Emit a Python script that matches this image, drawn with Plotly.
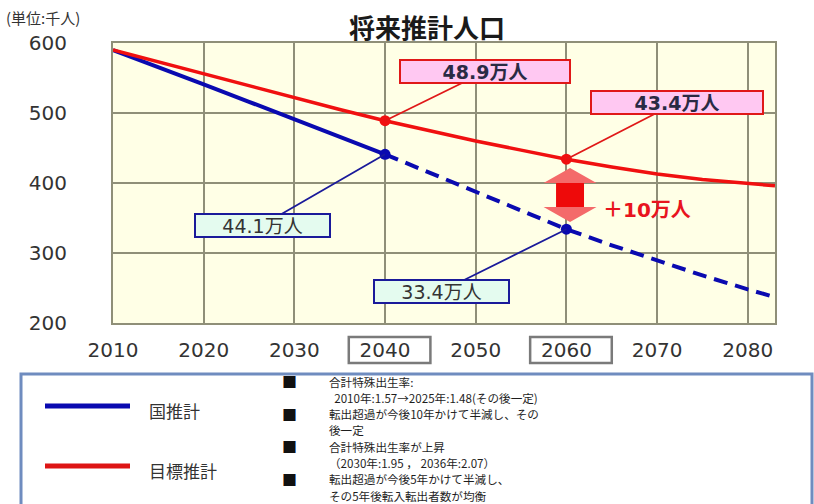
import plotly.graph_objects as go

# ---------------- data ----------------
years = [2010, 2015, 2020, 2025, 2030, 2035, 2040, 2045, 2050, 2055, 2060, 2065, 2070, 2075, 2080, 2083]
national = [590, 566, 541, 516, 491, 466, 441, 414, 388, 361, 334, 311, 289, 268, 248, 237]   # 国推計 (千人)
target = [590, 573, 556, 538, 521, 505, 489, 474, 460, 447, 434, 423, 413, 405, 399, 396]     # 目標推計 (千人)
x_ticks = [2010, 2020, 2030, 2040, 2050, 2060, 2070, 2080]
y_ticks = [200, 300, 400, 500, 600]
highlight_years = [2040, 2060]
nat_labels = ["44.1万人", "33.4万人"]
tgt_labels = ["48.9万人", "43.4万人"]

title_text = "将来推計人口"
unit_text = "(単位:千人)"
diff_text = "＋10万人"
legend_names = ["国推計", "目標推計"]
notes = [
    ["合計特殊出生率:", "\u00a0\u00a02010年:1.57→2025年:1.48(その後一定)"],
    ["転出超過が今後10年かけて半減し、その", "後一定"],
    ["合計特殊出生率が上昇", "（2030年:1.95 ， 2036年:2.07）"],
    ["転出超過が今後5年かけて半減し、", "その5年後転入転出者数が均衡"],
]
bullet = "■"

# ---------------- geometry ----------------
W, H = 814, 504
L, R, T, B = 113, 775, 43, 323
def px(x):
    return (x - L) / (R - L)
def py(y):
    return (B - y) / (B - T)

BLUE = "#0a0ab0"
RED = "#f01010"
JP = "Noto Sans CJK JP"
NUM = "DejaVu Sans, Noto Sans CJK JP"

fig = go.Figure()

i40 = years.index(2040)
# national: solid up to 2040, dashed after
fig.add_trace(go.Scatter(x=years[:i40 + 1], y=national[:i40 + 1], mode="lines",
                         line=dict(color=BLUE, width=4), hoverinfo="skip", showlegend=False))
fig.add_trace(go.Scatter(x=years[i40:], y=national[i40:], mode="lines",
                         line=dict(color=BLUE, width=4, dash="14px,8px"), hoverinfo="skip", showlegend=False))
fig.add_trace(go.Scatter(x=years, y=target, mode="lines",
                         line=dict(color=RED, width=3.5), hoverinfo="skip", showlegend=False))

hn = [national[years.index(y)] for y in highlight_years]
ht = [target[years.index(y)] for y in highlight_years]
fig.add_trace(go.Scatter(x=highlight_years, y=ht, mode="markers",
                         marker=dict(color=RED, size=11), hoverinfo="skip", showlegend=False))
fig.add_trace(go.Scatter(x=highlight_years, y=hn, mode="markers",
                         marker=dict(color=BLUE, size=11), hoverinfo="skip", showlegend=False))

annotations = []
shapes = []

# value callouts
red_off = [(100, -49), (111, -57)]
red_w = [166, 168]
for yv, v, lab, (ax, ay), w in zip(highlight_years, ht, tgt_labels, red_off, red_w):
    annotations.append(dict(x=yv, y=v, xref="x", yref="y", text="<b>" + lab + "</b>",
                            showarrow=True, arrowhead=0, arrowwidth=1.8, arrowcolor="#e01818",
                            ax=ax, ay=ay, bgcolor="#ffc8f2", bordercolor="#e01818", borderwidth=2,
                            borderpad=1, width=w, height=19,
                            font=dict(family=NUM, size=19, color="#2a2a44")))
blue_off = [(-123, 71), (-125, 62)]
for yv, v, lab, (ax, ay) in zip(highlight_years, hn, nat_labels, blue_off):
    annotations.append(dict(x=yv, y=v, xref="x", yref="y", text=lab,
                            showarrow=True, arrowhead=0, arrowwidth=1.8, arrowcolor="#1a1a9a",
                            ax=ax, ay=ay, bgcolor="#e4fbef", bordercolor="#1a1a9a", borderwidth=2,
                            borderpad=1, width=131, height=19,
                            font=dict(family=NUM, size=19, color="#333333")))

# double arrow between the two projections at 2060
ax_c = 2060.4
top = ht[1] - 12.6
bot = hn[1] + 10.3
hw, sw, hh = 2.92, 1.54, 21.4
arrow_path = (f"M {ax_c},{top} L {ax_c + hw},{top - hh} L {ax_c + sw},{top - hh} "
              f"L {ax_c + sw},{bot + hh} L {ax_c + hw},{bot + hh} L {ax_c},{bot} "
              f"L {ax_c - hw},{bot + hh} L {ax_c - sw},{bot + hh} L {ax_c - sw},{top - hh} "
              f"L {ax_c - hw},{top - hh} Z")
shapes.append(dict(type="path", path=arrow_path, xref="x", yref="y",
                   fillcolor="#f46a6a", line=dict(width=0), layer="above"))
shapes.append(dict(type="rect", xref="x", yref="y", x0=ax_c - sw, x1=ax_c + sw,
                   y0=top - hh, y1=bot + hh, fillcolor="#ee0a0a", line=dict(width=0), layer="above"))
annotations.append(dict(x=px(601), y=py(210), xref="paper", yref="paper", xanchor="left", yanchor="middle",
                        text="<b>" + diff_text + "</b>", showarrow=False,
                        font=dict(family=NUM, size=20, color="#e8141e")))

# title and unit
annotations.append(dict(x=px(427), y=py(27), xref="paper", yref="paper", xanchor="center", yanchor="middle",
                        text="<b>" + title_text + "</b>", showarrow=False,
                        font=dict(family=JP, size=26, color="#1a1a1a")))
annotations.append(dict(x=px(4), y=py(17), xref="paper", yref="paper", xanchor="left", yanchor="middle",
                        text=unit_text, showarrow=False,
                        font=dict(family=JP, size=15, color="#333333")))

# boxes around highlighted x tick labels
for yv in highlight_years:
    shapes.append(dict(type="rect", xref="x", yref="paper", x0=yv - 4.0, x1=yv + 5.0,
                       y0=py(363), y1=py(337), line=dict(color="#7a7a7a", width=2.5),
                       fillcolor="rgba(0,0,0,0)"))

# legend / notes box
shapes.append(dict(type="rect", xref="paper", yref="paper", x0=px(21), x1=px(812),
                   y0=py(520), y1=py(374), line=dict(color="#6f8cbf", width=3),
                   fillcolor="white", layer="below"))
for name, col, ly in zip(legend_names, [BLUE, "#dd1515"], [406, 466]):
    shapes.append(dict(type="line", xref="paper", yref="paper", x0=px(45), x1=px(130),
                       y0=py(ly), y1=py(ly), line=dict(color=col, width=5)))
    annotations.append(dict(x=px(147), y=py(ly + 4), xref="paper", yref="paper", xanchor="left",
                            yanchor="middle", text=name, showarrow=False,
                            font=dict(family=JP, size=17, color="#333333")))

# notes: one annotation per line
line_y0, line_step = 381.5, 16.3
k = 0
for item in notes:
    for j, txt in enumerate(item):
        yy = line_y0 + k * line_step
        if j == 0:
            annotations.append(dict(x=px(281), y=py(yy), xref="paper", yref="paper", xanchor="left",
                                    yanchor="middle", text=bullet, showarrow=False, borderpad=0,
                                    font=dict(family=JP, size=15, color="#111111")))
        annotations.append(dict(x=px(328), y=py(yy), xref="paper", yref="paper", xanchor="left",
                                yanchor="middle", text=txt, showarrow=False, borderpad=0,
                                font=dict(family=JP, size=11.6, color="#1e1e1e")))
        k += 1

fig.update_layout(
    width=W, height=H,
    margin=dict(l=L, r=W - R, t=T, b=H - B),
    paper_bgcolor="white",
    plot_bgcolor="#ffffe6",
    showlegend=False,
    annotations=annotations,
    shapes=shapes,
)
fig.update_xaxes(range=[2010, 2083], tickvals=x_ticks, ticktext=[str(v) for v in x_ticks],
                 showgrid=True, gridcolor="#8f8f78", gridwidth=2, zeroline=False,
                 showline=True, linecolor="#8f8f78", linewidth=2, mirror=True,
                 ticks="", ticklabelstandoff=8,
                 tickfont=dict(family="DejaVu Sans", size=20, color="#333333"))
fig.update_yaxes(range=[200, 600], tickvals=y_ticks, ticktext=[str(v) for v in y_ticks],
                 showgrid=True, gridcolor="#8f8f78", gridwidth=2, zeroline=False,
                 showline=True, linecolor="#8f8f78", linewidth=2, mirror=True,
                 ticks="", ticklabelstandoff=40,
                 tickfont=dict(family="DejaVu Sans", size=20, color="#333333"))

fig.write_html("out.html")
